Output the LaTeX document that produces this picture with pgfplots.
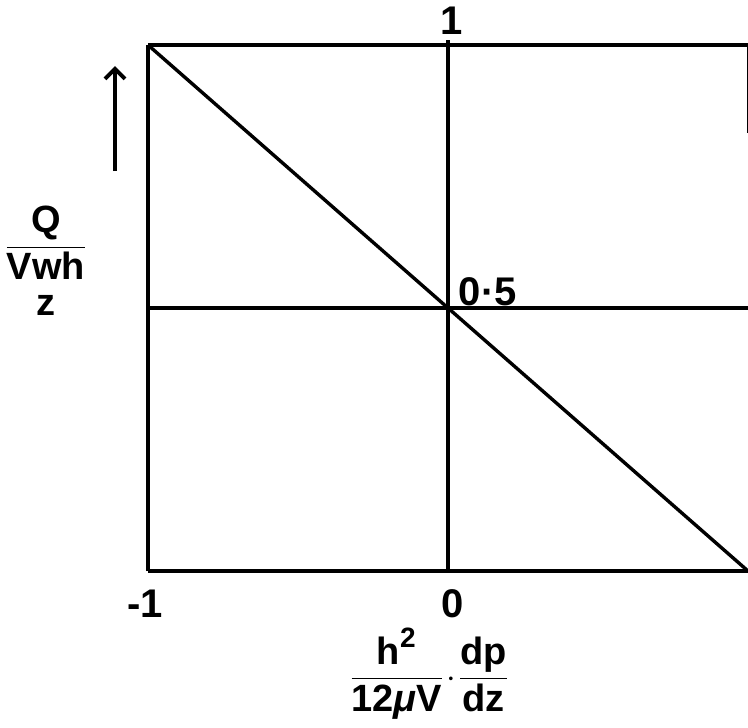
\documentclass[border=0pt]{standalone}
\usepackage{pgfplots}
\pgfplotsset{compat=1.18}
\usetikzlibrary{arrows.meta}
\usepackage{fontspec}
\setmainfont{Liberation Sans}

\begin{document}
\begin{tikzpicture}
\begin{axis}[
  scale only axis,
  width=300pt, height=263pt,
  xmin=-1, xmax=1, ymin=0, ymax=1,
  axis lines=none,
  clip=false,
]
% frame of the diagram
\addplot[black, line width=2pt] coordinates {(-1,1) (1,1)};
\addplot[black, line width=2pt] coordinates {(-1,0) (1,0)};
\addplot[black, line width=2pt] coordinates {(-1,0) (-1,1)};
\addplot[black, line width=1pt] coordinates {(1,1) (1,0.833)};
% reference lines through the centre
\addplot[black, line width=1.7pt] coordinates {(0,0) (0,1.01)};
\addplot[black, line width=1.7pt] coordinates {(-1,0.5) (1,0.5)};
% flow rate against pressure gradient
\addplot[black, line width=1.7pt] coordinates {(-1,1) (0,0.5) (1,0)};

% value labels
\tikzset{lbl/.style={font=\fontsize{20}{24}\selectfont\bfseries}}
\node[lbl] at (axis cs:-1.01,-0.063) {-1};
\node[lbl] at (axis cs:0.017,-0.063) {0};
\node[lbl] at (axis cs:1.04,-0.063) {1};
\node[lbl] at (axis cs:0.013,1.047) {1};
\node[lbl, anchor=west, inner sep=0pt] at (axis cs:0.035,0.53) {0·5};

% axis titles
\node[font=\fontsize{19}{23}\selectfont\bfseries] at (axis cs:-1.34,0.59)
  {$\displaystyle\frac{\mbox{\;Q\;}}{\mbox{V\rlap{\raisebox{-0.95em}{\hspace{0.1em}z}}wh}}$};
\draw[black, line width=2pt, -{Straight Barb[length=5pt,width=10pt]}]
  (axis cs:-1.11,0.76) -- (axis cs:-1.11,0.96);
\node[font=\fontsize{19}{23}\selectfont\bfseries] at (axis cs:-0.063,-0.195)
  {$\displaystyle\frac{\mbox{h}^{\mbox{\fontsize{14}{16}\selectfont\bfseries 2}}}{\mbox{12\textit{μ}V}}
   \!\cdot\!\frac{\mbox{dp}}{\mbox{dz}}$};

\coordinate (bl) at (rel axis cs:0,0);
\coordinate (tr) at (rel axis cs:1,1);
\end{axis}
\pgfresetboundingbox
\path[use as bounding box] ([xshift=-74pt,yshift=-78pt]bl) rectangle ([yshift=22.5pt]tr);
\end{tikzpicture}
\end{document}
